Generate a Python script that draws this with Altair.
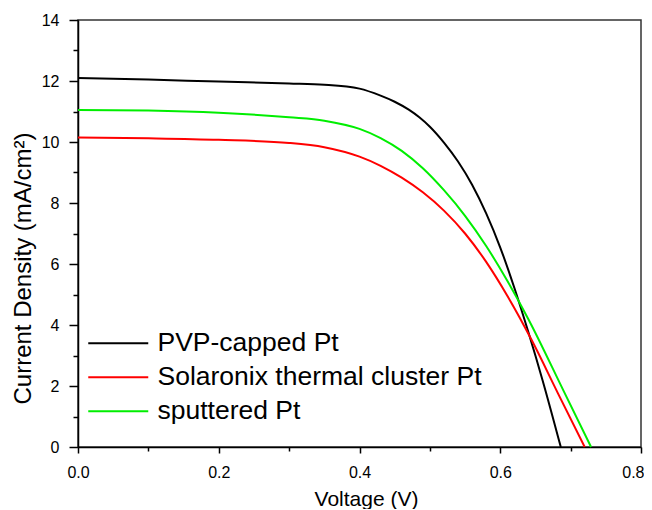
import altair as alt
import pandas as pd

series_names = ["PVP-capped Pt", "Solaronix thermal cluster Pt", "sputtered Pt"]
series_colors = ["#000000", "#ff0000", "#00ee00"]

v_pvp = [0, 0.1, 0.2, 0.3, 0.35, 0.4, 0.43, 0.45, 0.47, 0.485, 0.5, 0.52, 0.54, 0.56, 0.58, 0.6, 0.62, 0.64, 0.66, 0.686]
j_pvp = [12.1, 12.05, 11.98, 11.92, 11.88, 11.75, 11.52, 11.32, 11.06, 10.81, 10.5, 9.98, 9.36, 8.6, 7.66, 6.54, 5.22, 3.76, 2.2, 0]

v_sol = [0, 0.1, 0.2, 0.3, 0.35, 0.4, 0.43, 0.46, 0.49, 0.52, 0.55, 0.58, 0.61, 0.645, 0.682, 0.72]
j_sol = [10.15, 10.12, 10.07, 9.97, 9.83, 9.52, 9.22, 8.83, 8.35, 7.75, 7.0, 6.07, 4.96, 3.49, 1.76, 0]

v_spt = [0, 0.1, 0.2, 0.3, 0.35, 0.4, 0.43, 0.46, 0.49, 0.52, 0.55, 0.58, 0.61, 0.64, 0.69, 0.729]
j_spt = [11.05, 11.03, 10.96, 10.81, 10.7, 10.43, 10.13, 9.71, 9.14, 8.42, 7.58, 6.59, 5.45, 4.19, 1.84, 0]

x_ticks = [0, 0.1, 0.2, 0.3, 0.4, 0.5, 0.6, 0.7, 0.8]
y_ticks = [0, 1, 2, 3, 4, 5, 6, 7, 8, 9, 10, 11, 12, 13, 14]

rows = []
for name, vs, js in zip(series_names, [v_pvp, v_sol, v_spt], [j_pvp, j_sol, j_spt]):
    for i, (v, j) in enumerate(zip(vs, js)):
        rows.append({"series": name, "V": v, "J": j, "i": i})
df = pd.DataFrame(rows)

FONT = "Liberation Sans"

chart = alt.Chart(df).mark_line(strokeWidth=2, interpolate="monotone").encode(
    x=alt.X("V:Q", scale=alt.Scale(domain=[0, 0.8], nice=False),
            axis=alt.Axis(values=x_ticks, title="Voltage (V)", labelFlush=False,
                          labelExpr="round(datum.value*10) % 2 == 0 ? format(datum.value, '.1f') : ''",
                          labelAlign={"condition": {"test": "datum.value > 0.79", "value": "right"}, "value": "center"},
                          labelOffset={"condition": {"test": "datum.value > 0.79", "value": 3}, "value": 0},
                          tickSize={"condition": {"test": "round(datum.value*10) % 2 == 0", "value": 6}, "value": 4},
                          labelPadding=11, titlePadding=8, titleX=288)),
    y=alt.Y("J:Q", scale=alt.Scale(domain=[0, 14], nice=False),
            axis=alt.Axis(values=y_ticks, title="Current Density (mA/cm²)", labelFlush=False,
                          labelExpr="datum.value % 2 == 0 ? datum.label : ''",
                          tickSize={"condition": {"test": "datum.value % 2 == 0", "value": 9}, "value": 5},
                          labelPadding=10, titlePadding=6, titleY=248, titleFontSize=24)),
    color=alt.Color("series:N", scale=alt.Scale(domain=series_names, range=series_colors),
                    legend=alt.Legend(orient="none", legendX=27, legendY=310, title=None,
                                      symbolType="M-3,0H3", symbolSize=400, symbolStrokeWidth=2,
                                      labelFontSize=26.5, labelOffset=26, rowPadding=7, padding=0,
                                      labelFont=FONT, labelColor="#000000", labelLimit=0)),
    order="i:Q",
).properties(
    width=563, height=427,
    autosize=alt.AutoSizeParams(type="none"),
    padding={"left": 70, "top": 12, "right": 3, "bottom": 62},
).configure_view(
    stroke="#333333", strokeWidth=1.5
).configure_axis(
    grid=False, domainColor="#000000", domainWidth=1.5, tickColor="#000000", tickWidth=1.5,
    labelFont=FONT, labelFontSize=16, labelColor="#000000",
    titleFont=FONT, titleFontSize=21, titleFontWeight="normal", titleColor="#000000",
)

chart.save("out.html", embed_options={"renderer": "svg", "actions": False})
